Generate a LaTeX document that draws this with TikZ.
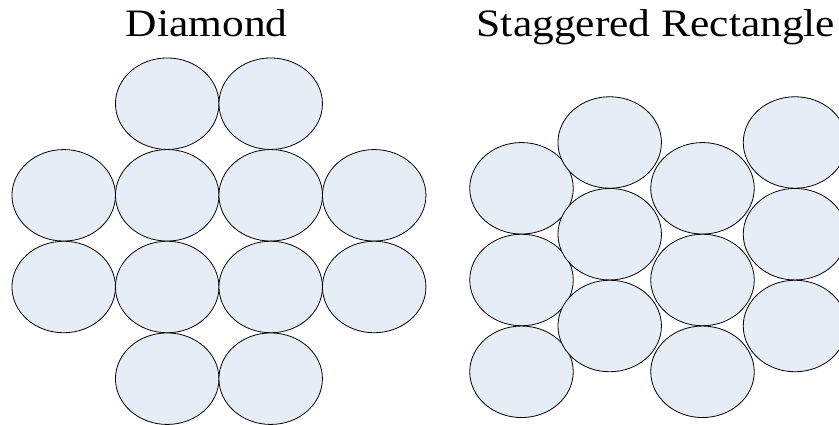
\documentclass[tikz,border=0pt]{standalone}
\usepackage{fontspec}
\setmainfont{Liberation Serif}
\usetikzlibrary{shapes.geometric}
\definecolor{discfill}{RGB}{231,237,247}
\tikzset{
  disc/.style={ellipse, draw=black, line width=0.8pt, fill=discfill,
    minimum width=103.5pt, minimum height=91.5pt, inner sep=0pt},
  heading/.style={anchor=base, inner sep=0pt, xscale=1.12,
    font=\fontsize{38.8}{40}\selectfont}
}
\begin{document}
\begin{tikzpicture}[x=1pt,y=-1pt]
  \useasboundingbox (0,0) rectangle (839,425);
  \clip (0,0) rectangle (839,425);
  % headings
  \node[heading] (tD) at (206.7,36.7) {Diamond};
  \node[heading] (tS) at (656,36.7) {Staggered Rectangle};
  % diamond arrangement
  \node[disc] (d11) at (167.2,103.7) {};
  \node[disc] (d12) at (270.7,103.7) {};
  \node[disc] (d21) at (63.7,195.3) {};
  \node[disc] (d22) at (167.2,195.3) {};
  \node[disc] (d23) at (270.7,195.3) {};
  \node[disc] (d24) at (374.2,195.3) {};
  \node[disc] (d31) at (63.7,287) {};
  \node[disc] (d32) at (167.2,287) {};
  \node[disc] (d33) at (270.7,287) {};
  \node[disc] (d34) at (374.2,287) {};
  \node[disc] (d41) at (167.2,378.7) {};
  \node[disc] (d42) at (270.7,378.7) {};
  % staggered arrangement
  \node[disc] (s11) at (521.5,188.3) {};
  \node[disc] (s12) at (521.5,280) {};
  \node[disc] (s13) at (521.5,371.8) {};
  \node[disc] (s31) at (702.5,188.3) {};
  \node[disc] (s32) at (702.5,280) {};
  \node[disc] (s33) at (702.5,371.8) {};
  \node[disc] (s21) at (609.7,142.5) {};
  \node[disc] (s22) at (609.7,234.2) {};
  \node[disc] (s23) at (609.7,326) {};
  \node[disc] (s41) at (795,142.5) {};
  \node[disc] (s42) at (795,234.2) {};
  \node[disc] (s43) at (795,326) {};
\end{tikzpicture}
\end{document}
